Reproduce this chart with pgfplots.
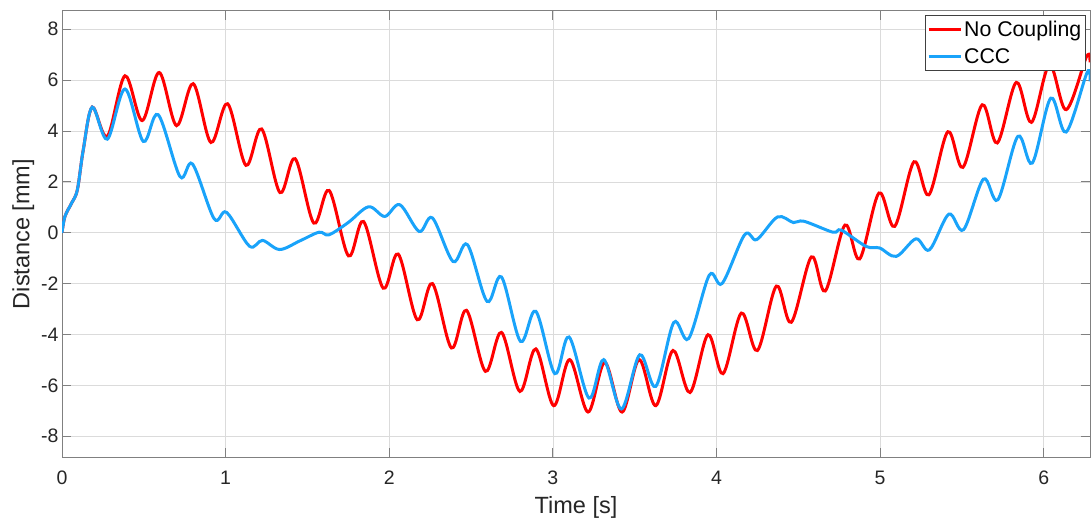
\documentclass[border=0pt]{standalone}
\usepackage{pgfplots}
\pgfplotsset{compat=1.18}
\usepackage{fontspec}
\setmainfont{Liberation Sans}
\definecolor{nocoup}{RGB}{255,0,0}
\definecolor{ccc}{RGB}{25,163,250}
\definecolor{axgray}{RGB}{128,128,128}
\definecolor{txtgray}{RGB}{38,38,38}
\begin{document}
\begin{tikzpicture}
\begin{axis}[
  at={(62pt,65.7pt)}, anchor=south west,
  scale only axis, width=1028pt, height=446.6pt,
  xmin=0, xmax=6.2832, ymin=-8.83, ymax=8.73,
  xtick={0,1,2,3,4,5,6}, ytick={-8,-6,-4,-2,0,2,4,6,8},
  grid=major, major grid style={gray!28, line width=0.7pt},
  axis line style={axgray, line width=0.9pt},
  tick style={axgray, line width=0.9pt},
  tick align=inside, major tick length=9pt,
  /pgf/number format/assume math mode=true,
  ticklabel style={font=\fontsize{19.5}{21}\selectfont, text=txtgray},
  xticklabel style={yshift=-10pt},
  xlabel={Time [s]}, ylabel={Distance [mm]},
  label style={font=\fontsize{23.5}{25}\selectfont, text=txtgray},
  xlabel style={yshift=-5pt},
  legend cell align=left,
  legend style={at={(1,1)}, anchor=north east, xshift=-4.3pt, yshift=-4.3pt,
    draw=black!75, line width=0.8pt, fill=white,
    font=\fontsize{21.3}{23}\selectfont, inner xsep=2pt, inner ysep=4pt,
    row sep=6pt},
  legend image code/.code={\draw[#1, line width=3pt] (0pt,0pt) -- (32pt,0pt);},
]
\addplot[nocoup, line width=3pt, smooth, tension=0.55] coordinates {
(0,0) (0.018,0.64) (0.059,1.17) (0.094,1.69) (0.13,3.26) (0.185,4.94)
(0.277,3.79) (0.385,6.17) (0.49,4.41) (0.594,6.30) (0.70,4.21) (0.802,5.86)
(0.910,3.55) (1.012,5.07) (1.124,2.65) (1.22,4.08) (1.332,1.58) (1.425,2.91)
(1.539,0.38) (1.633,1.66) (1.751,-0.91) (1.843,0.44) (1.963,-2.18) (2.055,-0.84)
(2.171,-3.42) (2.264,-2.00) (2.38,-4.53) (2.472,-3.05) (2.588,-5.45) (2.686,-3.92)
(2.798,-6.24) (2.896,-4.57) (3.005,-6.80) (3.103,-4.99) (3.215,-7.05) (3.317,-5.10)
(3.423,-7.05) (3.527,-4.99) (3.629,-6.80) (3.734,-4.63) (3.838,-6.28) (3.948,-4.01)
(4.04,-5.54) (4.152,-3.16) (4.25,-4.63) (4.366,-2.10) (4.457,-3.52) (4.58,-0.95)
(4.665,-2.29) (4.785,0.30) (4.875,-1.03) (4.993,1.56) (5.089,0.25) (5.207,2.79)
(5.298,1.49) (5.414,3.97) (5.506,2.57) (5.624,5.03) (5.716,3.53) (5.832,5.91)
(5.925,4.34) (6.035,6.6) (6.137,4.84) (6.262,6.93) (6.2832,6.7)
};
\addlegendentry{No Coupling}
\addplot[ccc, line width=3pt, smooth, tension=0.55] coordinates {
(0,0) (0.018,0.64) (0.059,1.17) (0.094,1.69) (0.13,3.26) (0.185,4.94)
(0.277,3.68) (0.385,5.65) (0.497,3.59) (0.588,4.64) (0.721,2.21) (0.798,2.70)
(0.930,0.55) (1.006,0.80) (1.146,-0.53) (1.225,-0.30) (1.33,-0.66) (1.454,-0.32)
(1.571,0.02) (1.632,-0.08) (1.749,0.40) (1.874,1.02) (1.973,0.64) (2.065,1.10)
(2.183,0.05) (2.264,0.58) (2.39,-1.13) (2.478,-0.47) (2.598,-2.70) (2.686,-1.74)
(2.802,-4.27) (2.896,-3.09) (3.012,-5.54) (3.099,-4.10) (3.221,-6.50) (3.311,-4.99)
(3.419,-6.93) (3.531,-4.80) (3.629,-6.04) (3.739,-3.53) (3.83,-4.16) (3.956,-1.67)
(4.035,-1.99) (4.172,-0.08) (4.246,-0.27) (4.373,0.62) (4.47,0.40) (4.535,0.45)
(4.712,0.02) (4.763,0.10) (4.915,-0.54) (4.997,-0.60) (5.099,-0.93) (5.219,-0.24)
(5.302,-0.67) (5.42,0.73) (5.51,0.12) (5.632,2.11) (5.72,1.30) (5.842,3.79)
(5.93,2.74) (6.043,5.29) (6.137,3.96) (6.265,6.3) (6.2832,5.95)
};
\addlegendentry{CCC}
\end{axis}
\pgfresetboundingbox
\path (0,0) rectangle (1092pt,523pt);
\end{tikzpicture}
\end{document}
